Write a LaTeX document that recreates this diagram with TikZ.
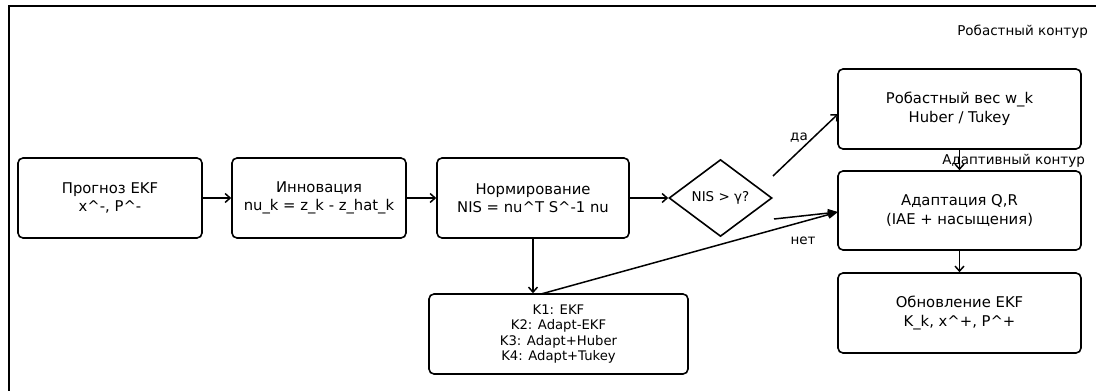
\documentclass[tikz,border=0pt]{standalone}
\usepackage{fontspec}
\setmainfont{DejaVu Sans}
\usetikzlibrary{arrows.meta,shapes.geometric}
\begin{document}
\begin{tikzpicture}[x=1pt,y=-1pt,
  box/.style={draw,line width=1.6pt,rounded corners=5pt,align=center,inner sep=0pt,
    font=\fontsize{14.8}{18.5}\selectfont},
  kbox/.style={box,font=\fontsize{13.2}{15.3}\selectfont},
  dec/.style={draw,line width=1.6pt,shape=diamond,inner sep=0pt,
    minimum width=103pt,minimum height=77pt,font=\fontsize{13.5}{16}\selectfont},
  lbl/.style={font=\fontsize{13.5}{16}\selectfont,inner sep=0pt},
  arr/.style={line width=1.5pt,-{Straight Barb[length=5pt,width=9pt,line width=1.5pt]}},
  farr/.style={line width=1.5pt,-{Triangle[length=10pt,width=8pt]}}]
\useasboundingbox (0,0) rectangle (1096,391);
\draw[line width=2pt] (9,391) -- (9,6) -- (1096,6);

\node[box,minimum width=184pt,minimum height=80pt] (p) at (110,198) {Прогноз EKF\\x\^{}-, P\^{}-};
\node[box,minimum width=174pt,minimum height=80pt] (i) at (319,198) {Инновация\\nu\_k = z\_k - z\_hat\_k};
\node[box,minimum width=192pt,minimum height=80pt] (n) at (533,198) {Нормирование\\NIS = nu\^{}T S\^{}-1 nu};
\node[dec] (d) at (720.5,198) {NIS > γ?};
\node[kbox,minimum width=259pt,minimum height=80pt] (k) at (558.5,334) {K1: EKF\\K2: Adapt-EKF\\K3: Adapt+Huber\\K4: Adapt+Tukey};
\node[box,minimum width=243pt,minimum height=80pt] (r) at (959.5,109) {Робастный вес w\_k\\Huber / Tukey};
\node[box,minimum width=243pt,minimum height=79pt] (a) at (959.5,210.5) {Адаптация Q,R\\(IAE + насыщения)};
\node[box,minimum width=243pt,minimum height=80pt] (u) at (959.5,313) {Обновление EKF\\K\_k, x\^{}+, P\^{}+};

\coordinate (dyes) at (773,176);
\coordinate (dno) at (774,219);
\coordinate (kout) at (541,294);
\coordinate (rin) at (838,114);
\coordinate (ain) at (838,212);

\draw[arr] (p) -- (i);
\draw[arr] (i) -- (n);
\draw[arr] (n) -- (d);
\draw[arr] (n.south) -- (k.north -| n.south);
\draw[arr] (dyes) -- (rin);
\draw[farr] (dno) -- (ain);
\draw[farr] (kout) -- (ain);
\draw[arr] (r) -- (a);
\draw[arr] (a) -- (u);

\node[lbl] (lda) at (799,138) {да};
\node[lbl] (lnet) at (803,241) {нет};
\node[lbl,anchor=east] (lrob) at (1088,32) {Робастный контур};
\node[lbl,anchor=east] (lad) at (1085,161) {Адаптивный контур};
\end{tikzpicture}
\end{document}
